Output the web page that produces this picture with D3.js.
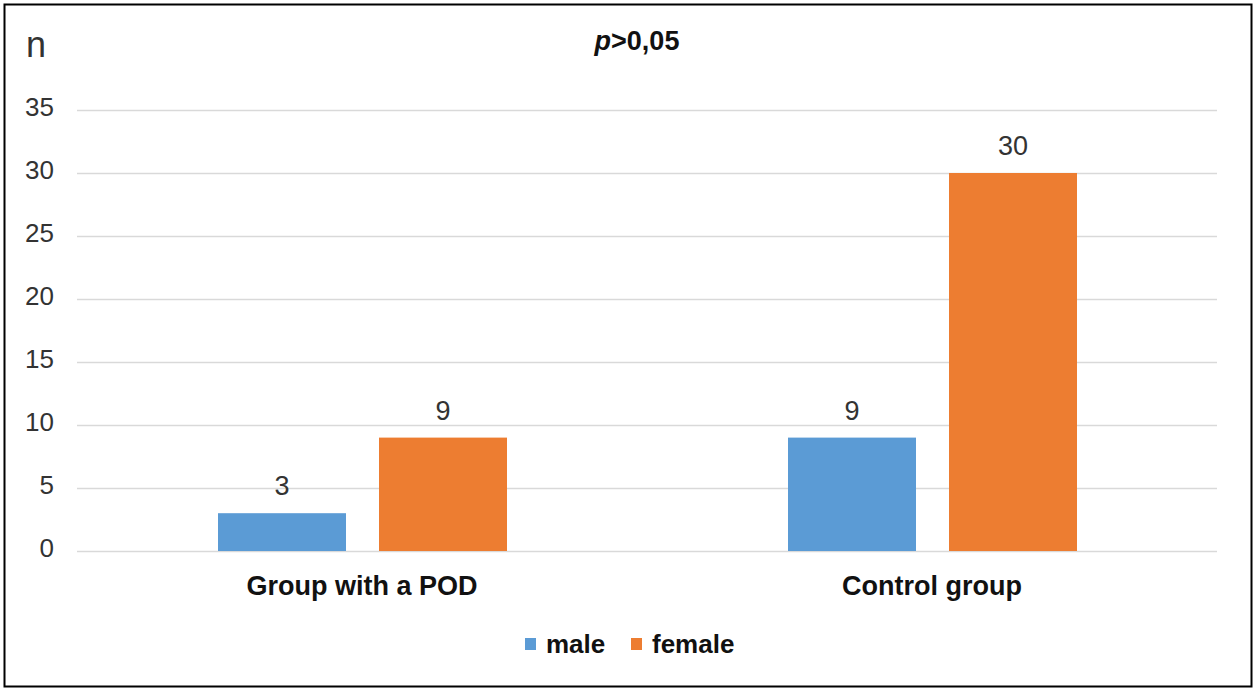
<!DOCTYPE html>
<html><head><meta charset="utf-8">
<script src="https://cdn.jsdelivr.net/npm/d3@7"></script>
<style>body{margin:0;background:#fff;} svg{display:block;font-family:Arial,"Liberation Sans",sans-serif;}</style>
</head><body>
<svg id="c" width="1257" height="689"></svg>
<script>
const categories = ["Group with a POD", "Control group"];
const seriesNames = ["male", "female"];
const maleValues = [3, 9];
const femaleValues = [9, 30];
const yTicks = [0, 5, 10, 15, 20, 25, 30, 35];
const colors = ["#5B9BD5", "#ED7D31"];

(function(){
const FF = "Arial,'Liberation Sans',sans-serif";
const svg = d3.select("#c");
svg.append("rect").attr("x",4.5).attr("y",4.5).attr("width",1247).attr("height",682)
  .attr("fill","#fff").attr("stroke","#000").attr("stroke-width",2);

const plotLeft = 77, plotRight = 1217, plotTop = 110, plotBottom = 551;
const y = d3.scaleLinear().domain([0,35]).range([plotBottom, plotTop]);
const x0 = d3.scaleBand().domain(categories).range([plotLeft, plotRight]).paddingInner(0).paddingOuter(0);
const x1 = d3.scaleBand().domain(seriesNames).range([141, 141+289]).paddingInner(0.205).paddingOuter(0);

// grid + y ticks
const yAxis = d3.axisLeft(y).tickValues(yTicks).tickSize(-(plotRight-plotLeft)).tickPadding(23);
const ga = svg.append("g").attr("transform",`translate(${plotLeft},0)`).call(yAxis);
ga.select(".domain").remove();
ga.selectAll(".tick line").attr("stroke","#D9D9D9").attr("stroke-width",1.5);
ga.selectAll(".tick text").attr("font-size",26).attr("fill","#333").attr("dy","0.2em").attr("x",-23).attr("font-family",FF);

const data = categories.map((c,i)=>({cat:c, vals:[{s:"male",v:maleValues[i]},{s:"female",v:femaleValues[i]}]}));
const g = svg.append("g");
const grp = g.selectAll("g.grp").data(data).join("g").attr("transform",d=>`translate(${x0(d.cat)},0)`);
grp.selectAll("rect").data(d=>d.vals).join("rect")
  .attr("x",d=>x1(d.s)).attr("width",x1.bandwidth())
  .attr("y",d=>y(d.v)).attr("height",d=>y(0)-y(d.v))
  .attr("fill",(d,i)=>colors[i]);
grp.selectAll("text.val").data(d=>d.vals).join("text").attr("class","val")
  .attr("x",d=>x1(d.s)+x1.bandwidth()/2).attr("y",d=>y(d.v)-18)
  .attr("text-anchor","middle").attr("font-size",27).attr("fill","#333").text(d=>d.v);

// x axis labels
const xAxis = d3.axisBottom(x0).tickSize(0).tickPadding(25);
const gx = svg.append("g").attr("transform",`translate(0,${plotBottom})`).call(xAxis);
gx.select(".domain").remove();
gx.selectAll(".tick text").attr("font-size",27).attr("font-weight","bold").attr("fill","#111").attr("font-family",FF);

// y label
svg.append("text").attr("x",26).attr("y",57).attr("font-size",36).attr("fill","#333").text("n");

// title
const t = svg.append("text").attr("x",637).attr("y",50).attr("text-anchor","middle").attr("font-size",27).attr("font-weight","bold").attr("fill","#111");
t.append("tspan").attr("font-style","italic").text("p");
t.append("tspan").text(">0,05");

// legend
const legendItems = [{name:"male",x:525},{name:"female",x:631}];
const lg = svg.append("g");
legendItems.forEach((it,i)=>{
  lg.append("rect").attr("x",it.x).attr("y",638).attr("width",11).attr("height",12).attr("fill",colors[i]);
  lg.append("text").attr("x",it.x+21).attr("y",653).attr("font-size",26).attr("font-weight","bold").attr("fill","#111").text(it.name);
});
})();
</script>
</body></html>
